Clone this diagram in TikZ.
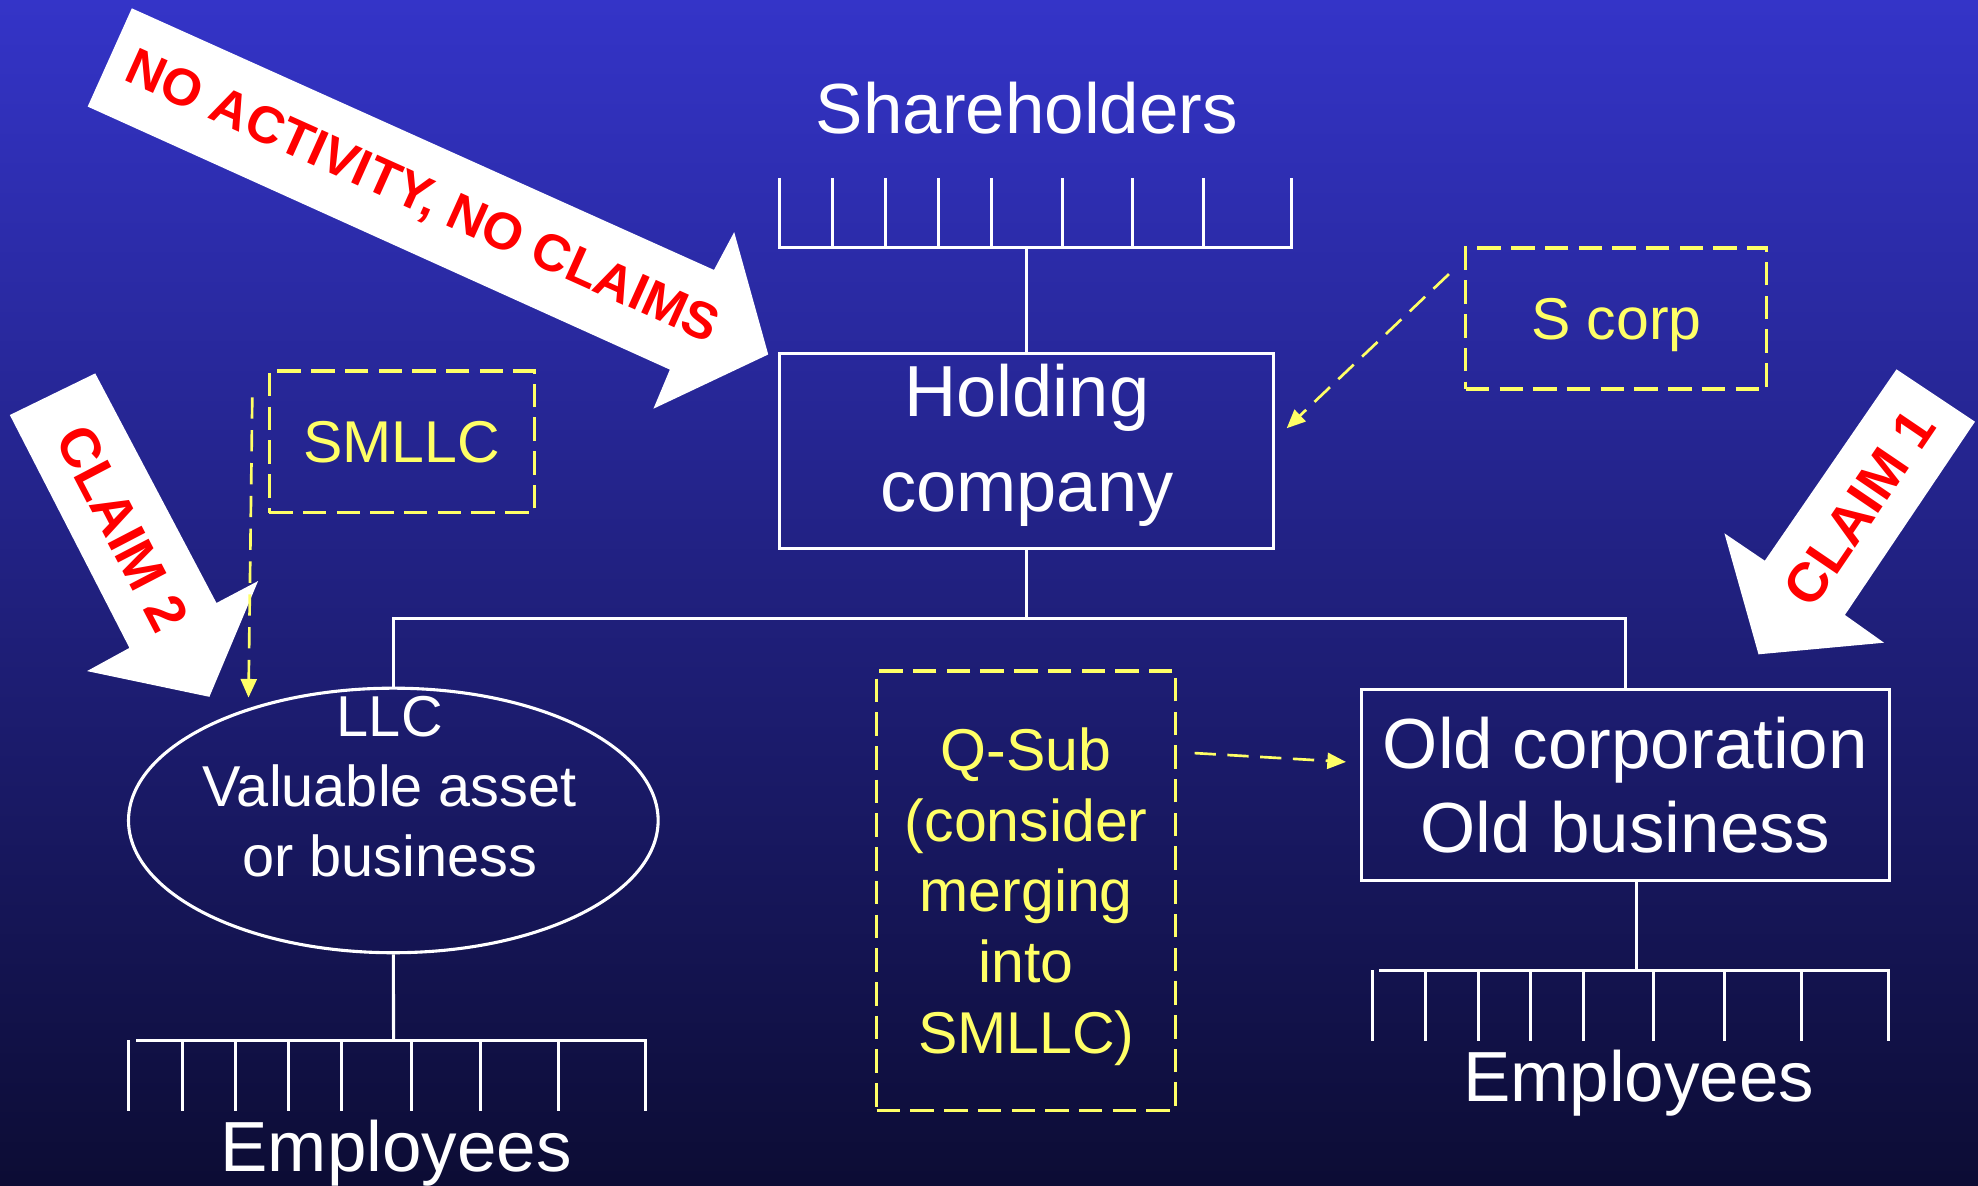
\documentclass[tikz,border=0pt]{standalone}
\usepackage{fontspec}
\setmainfont{Liberation Sans}
\usetikzlibrary{shapes.geometric,arrows.meta}
\definecolor{slidetop}{RGB}{52,52,200}
\definecolor{slidebottom}{RGB}{12,12,52}
\definecolor{noteyellow}{RGB}{255,255,102}

\begin{document}
\begin{tikzpicture}[x=0.01cm,y=-0.01cm,
    wire/.style={white,line width=0.7pt},
    entity/.style={draw=white,line width=0.7pt,text=white,align=center,inner sep=0pt},
    whitetext/.style={text=white,font=\fontsize{16}{20}\selectfont},
    note/.style={draw=noteyellow,line width=0.7pt,dash pattern=on 5.3pt off 2.3pt,
        text=noteyellow,align=center,inner sep=0pt,font=\fontsize{13.3}{15.9}\selectfont},
    hint/.style={noteyellow,line width=0.6pt,dash pattern=on 4.8pt off 2.6pt,
        -{Triangle[length=4.2pt,width=3.6pt]}},
    claim/.style={text=red,font=\fontsize{12.5}{15}\selectfont\bfseries},
]
    \useasboundingbox (0,0) rectangle (1568,940);
    \shade[top color=slidetop,bottom color=slidebottom] (0,0) rectangle (1568,940);

    % Entities
    \node[whitetext,anchor=base] (share) at (814,105.7) {Shareholders};
    \node[entity,minimum width=3.915cm,minimum height=1.54cm,text depth=0.21cm,
        font=\fontsize{16.3}{21.3}\selectfont] (hold) at (814,357.6) {Holding\\company};
    \node[entity,ellipse,minimum width=4.196cm,minimum height=2.096cm] (llc) at (311.8,650.4) {};
    \node[text=white,align=center,font=\fontsize{13}{15.8}\selectfont] (llctext) at (309,623.8)
        {LLC\\Valuable asset\\or business};
    \node[entity,minimum width=4.185cm,minimum height=1.517cm,
        font=\fontsize{16}{19}\selectfont] (old) at (1288.5,622.2) {Old corporation\\Old business};
    \node[whitetext,anchor=base] (empLtext) at (314,929) {Employees};
    \node[whitetext,anchor=base] (empRtext) at (1299,873) {Employees};

    % Notes
    \node[note,minimum width=2.385cm,minimum height=1.117cm,text depth=0pt] (scorp) at (1281.3,252.5) {S corp};
    \node[note,minimum width=2.102cm,minimum height=1.123cm] (smllc) at (318.5,350.3) {SMLLC};
    \node[note,minimum width=2.37cm,minimum height=3.48cm,text depth=0pt] (qsub) at (813.5,706)
        {Q-Sub\\(consider\\merging\\into\\SMLLC)};

    % Shareholders comb
    \coordinate (shbar) at (814,196);
    \draw[wire]
    (618,141) -- (618,196) -- (1024,196) -- (1024,141)
    (660,141) -- ++(0,55)
    (702,141) -- ++(0,55)
    (744,141) -- ++(0,55)
    (786,141) -- ++(0,55)
    (842,141) -- ++(0,55)
    (898,141) -- ++(0,55)
    (954,141) -- ++(0,55)
    ;
    \draw[wire] (hold.north) -- (shbar);

    % Tree below holding company
    \coordinate (split) at (814,490.2);
    \draw[wire] (hold.south) -- (split);
    \draw[wire] (llc.north) |- (split) -| (old.north);

    % Employees combs
    \coordinate (empL) at (312,824.5);
    \coordinate (empR) at (1297,769);
    \draw[wire] (llc.south) -- (empL);
    \draw[wire] (empR |- old.south) -- (empR);
    \draw[wire]
    (108,824.5) -- (512,824.5) -- ++(0,56)
    (102,824.5) -- ++(0,56)
    (145,824.5) -- ++(0,56)
    (187,824.5) -- ++(0,56)
    (229,824.5) -- ++(0,56)
    (271,824.5) -- ++(0,56)
    (326,824.5) -- ++(0,56)
    (381,824.5) -- ++(0,56)
    (443,824.5) -- ++(0,56)
    ;
    \draw[wire]
    (1093,769) -- (1497,769) -- ++(0,56)
    (1088,769) -- ++(0,56)
    (1130,769) -- ++(0,56)
    (1172,769) -- ++(0,56)
    (1213,769) -- ++(0,56)
    (1255,769) -- ++(0,56)
    (1311,769) -- ++(0,56)
    (1367,769) -- ++(0,56)
    (1428,769) -- ++(0,56)
    ;

    % Big arrows
    \fill[white] (104.5,6.6) -- (566,214) -- (582,184) -- (609,281)
        -- (518,324) -- (531,293) -- (69.5,84.5) -- cycle;
    \node[claim,rotate=-24.2,anchor=base,font=\fontsize{11.7}{14}\selectfont\bfseries]
        (noclaims) at (329.8,167.8) {NO ACTIVITY, NO CLAIMS};
    \fill[white] (75.5,296) -- (171.6,478) -- (204.6,460.6) -- (166,552.4)
        -- (69,532) -- (102.6,513.6) -- (7.8,329) -- cycle;
    \node[claim,rotate=-62.5] (claimtwo) at (97,419) {CLAIM 2};
    \fill[white] (1503.4,292.8) -- (1565.6,334.3) -- (1462.5,487.5) -- (1493.5,509.5)
        -- (1394,518.7) -- (1367,422.8) -- (1399,444.5) -- cycle;
    \node[claim,rotate=55.8] (claimone) at (1474,402.6) {CLAIM 1};

    % Hints
    \coordinate (scfrom) at (1148.6,217.3);
    \coordinate (scto) at (1020,339.5);
    \coordinate (smfrom) at (200,315);
    \coordinate (smto) at (197,553);
    \coordinate (qfrom) at (947,597);
    \coordinate (qto) at (1067,604);
    \draw[hint] (scfrom) -- (scto);
    \draw[hint] (smfrom) -- (smto);
    \draw[hint] (qfrom) -- (qto);
\end{tikzpicture}
\end{document}
